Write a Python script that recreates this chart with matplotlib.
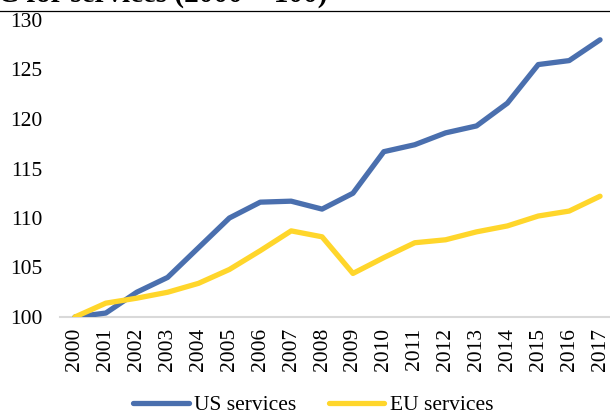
import matplotlib
matplotlib.use("Agg")
import matplotlib.pyplot as plt
from matplotlib.lines import Line2D

years = list(range(2000, 2018))
us_services = [100.0, 100.4, 102.5, 104.0, 107.0, 110.0, 111.6, 111.7, 110.9, 112.5,
               116.7, 117.4, 118.6, 119.3, 121.6, 125.5, 125.9, 128.0]
eu_services = [100.0, 101.4, 101.9, 102.5, 103.4, 104.8, 106.7, 108.7, 108.1, 104.4,
               106.0, 107.5, 107.8, 108.6, 109.2, 110.2, 110.7, 112.2]
title = "C for services (2000 = 100)"

plt.rcParams['font.family'] = ['Liberation Serif', 'DejaVu Serif']
fs = 15.5

fig = plt.figure(figsize=(6.10, 4.12), dpi=100)
ax = fig.add_axes([59.5 / 610, 95 / 412, 556 / 610, 297 / 412])

ax.plot(years, us_services, color='#4a6fae', lw=3.8, solid_capstyle='round',
        solid_joinstyle='round', label='US services')
ax.plot(years, eu_services, color='#ffd62b', lw=3.8, solid_capstyle='round',
        solid_joinstyle='round', label='EU services')

ax.set_xlim(years[0] - 0.5, years[-1] + 0.5)
ax.set_ylim(100, 130)
ax.set_xticks(years)
ax.set_xticklabels([str(y) for y in years], rotation=90, fontsize=fs)
ax.set_yticks(range(100, 131, 5))
ax.tick_params(axis='y', labelsize=fs, length=0, pad=12.5)
ax.tick_params(axis='x', length=0, pad=8)
for s in ['top', 'right', 'left']:
    ax.spines[s].set_visible(False)
ax.spines['bottom'].set_color('#d9d9d9')
ax.spines['bottom'].set_linewidth(1.5)
ax.spines['bottom'].set_zorder(0)

# clipped title and rule at the top
fig.text(-0.004, 1 - 2 / 412, title, fontsize=21, fontweight='bold',
         ha='left', va='baseline')
fig.add_artist(Line2D([0, 1], [1 - 10.5 / 412] * 2, color='black', lw=0.9))

fig.legend(loc='center', bbox_to_anchor=(313 / 610, 7 / 412), ncol=2,
           frameon=False, fontsize=fs, handlelength=2.6, handletextpad=0.25,
           columnspacing=1.5, borderpad=0)

fig.savefig('out.png', dpi=100)
